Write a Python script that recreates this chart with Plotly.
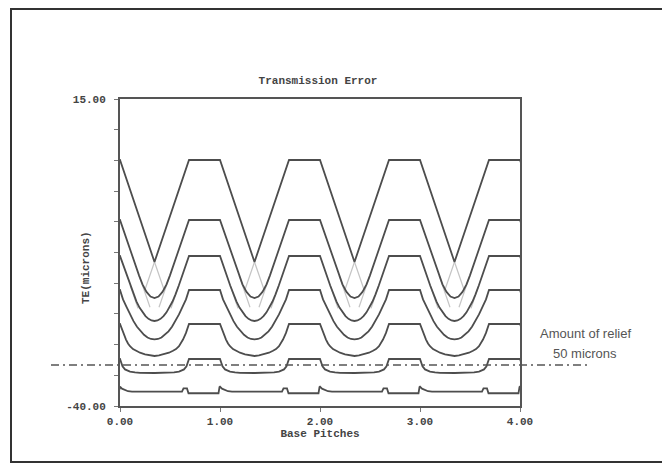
import plotly.graph_objects as go

# ---------------- data ----------------
periods = [-1, 0, 1, 2, 3, 4]          # base-pitch periods the profiles repeat over

# one-period profiles: phase within a base pitch and TE (microns)
c1_t = [0.0, 0.345, 0.69, 1.0]
c1_y = [4.07, -14.20, 4.07, 4.07]

c2_t = [0.0, 0.191, 0.225, 0.265, 0.305, 0.345, 0.385, 0.425, 0.465, 0.499, 0.69, 1.0]
c2_y = [-6.68, -16.64, -18.21, -19.57, -20.38, -20.65, -20.38, -19.57, -18.21, -16.64, -6.68, -6.68]

c3_t = [0.0, 0.102, 0.135, 0.165, 0.195, 0.225, 0.255, 0.285, 0.315, 0.345,
        0.375, 0.405, 0.435, 0.465, 0.495, 0.525, 0.555, 0.588, 0.69, 1.0]
c3_y = [-13.13, -18.42, -20.0, -21.29, -22.36, -23.22, -23.90, -24.38, -24.67, -24.77,
        -24.67, -24.38, -23.90, -23.22, -22.36, -21.29, -20.0, -18.42, -13.13, -13.13]

c4_t = [0.0, 0.03, 0.065, 0.10, 0.135, 0.17, 0.205, 0.24, 0.275, 0.31, 0.345,
        0.38, 0.415, 0.45, 0.485, 0.52, 0.555, 0.59, 0.625, 0.66, 0.69, 1.0]
c4_y = [-19.22, -20.9, -22.25, -23.6, -24.80, -25.8, -26.62, -27.25, -27.72, -27.99, -28.08,
        -27.99, -27.72, -27.25, -26.62, -25.8, -24.80, -23.6, -22.25, -20.9, -19.22, -19.22]

c5_t = [0.0, 0.03, 0.06, 0.08, 0.10, 0.13, 0.16, 0.20, 0.25, 0.30, 0.345,
        0.39, 0.44, 0.49, 0.53, 0.56, 0.59, 0.61, 0.63, 0.66, 0.69, 1.0]
c5_y = [-25.31, -26.9, -28.1, -28.8, -29.3, -29.8, -30.1, -30.45, -30.75, -30.95, -31.04,
        -30.95, -30.75, -30.45, -30.1, -29.8, -29.3, -28.8, -28.1, -26.9, -25.31, -25.31]

c6_t = [0.0, 0.025, 0.05, 0.075, 0.10, 0.15, 0.20, 0.345, 0.49, 0.54, 0.59, 0.615, 0.64, 0.665, 0.69, 1.0]
c6_y = [-31.58, -32.9, -33.45, -33.7, -33.85, -33.98, -34.05, -34.09, -34.05, -33.98, -33.85, -33.7, -33.45, -32.9, -31.58, -31.58]

c7_t = [0.0, 0.02, 0.05, 0.08, 0.12, 0.62, 0.635, 0.67, 0.685, 0.985, 0.995, 1.0]
c7_y = [-36.54, -36.9, -37.2, -37.35, -37.44, -37.44, -36.85, -36.85, -37.72, -37.72, -36.6, -36.54]

curves_t = [c1_t, c2_t, c3_t, c4_t, c5_t, c6_t, c7_t]
curves_y = [c1_y, c2_y, c3_y, c4_y, c5_y, c6_y, c7_y]

# faint continuations of the straight flanks (segments within one period)
faint_seg_t = [[0.345, 0.445], [0.345, 0.245],
               [0.191, 0.30], [0.499, 0.39],
               [0.102, 0.18], [0.588, 0.51]]
faint_seg_y = [[-14.20, -19.40], [-14.20, -19.40],
               [-16.64, -22.31], [-16.64, -22.31],
               [-18.42, -22.51], [-18.42, -22.51]]

relief_level = -32.65          # amount of relief line (dash-dot)

x_tickvals = [0, 1, 2, 3, 4]
x_ticktext = ["0.00", "1.00", "2.00", "3.00", "4.00"]
y_tickvals = [-40, -34.5, -29, -23.5, -18, -12.5, -7, -1.5, 4, 9.5, 15]
y_ticktext = ["-40.00", "", "", "", "", "", "", "", "", "", "15.00"]

# ---------------- layout geometry (page has an 8px body margin) ----------------
OFF = 8
W, H = 670 - OFF, 465 - OFF
L, T = 120 - OFF, 99 - OFF
R = W - (520 - OFF)
B = H - (406 - OFF)
PW, PH = W - L - R, H - T - B


def px(xp):
    return (xp - OFF - L) / PW


def py(yp):
    return (H - B - (yp - OFF)) / PH


fig = go.Figure()

# faint flank continuations
fx, fy = [], []
for p in periods:
    for st, sy in zip(faint_seg_t, faint_seg_y):
        fx += [p + v for v in st] + [None]
        fy += list(sy) + [None]
fig.add_trace(go.Scatter(x=fx, y=fy, mode="lines",
                         line=dict(color="#c4c4c4", width=1.2),
                         hoverinfo="skip", showlegend=False))

for ts, ys in zip(curves_t, curves_y):
    xs, yv = [], []
    for p in periods:
        xs += [p + v for v in ts]
        yv += list(ys)
    fig.add_trace(go.Scatter(x=xs, y=yv, mode="lines",
                             line=dict(color="#4d4d4d", width=1.8),
                             showlegend=False))

mono = "Liberation Mono"
tf = dict(family=mono, size=11, color="#444")

fig.update_layout(
    width=W, height=H,
    margin=dict(l=L, r=R, t=T, b=B),
    paper_bgcolor="white", plot_bgcolor="white",
    showlegend=False,
    xaxis=dict(range=[0, 4], tickvals=x_tickvals, ticktext=["<b>%s</b>" % s for s in x_ticktext],
               showgrid=False, zeroline=False,
               showline=True, mirror=True, linecolor="#555", linewidth=2,
               ticks="outside", ticklen=4, tickcolor="#777", tickwidth=1,
               tickfont=tf,
               title=dict(text="<b>Base Pitches</b>", standoff=2, font=tf)),
    yaxis=dict(range=[-40, 15], tickvals=y_tickvals,
               ticktext=["<b>%s</b>" % s if s else "" for s in y_ticktext],
               showgrid=False, zeroline=False,
               showline=True, mirror=True, linecolor="#555", linewidth=2,
               ticks="outside", ticklen=4, tickcolor="#777", tickwidth=1,
               ticklabelstandoff=6,
               tickfont=tf),
    title=dict(text="<b>Transmission Error</b>", xref="paper", x=px(318), xanchor="center",
               yref="container", y=1 - (80 - OFF) / H, yanchor="middle",
               font=tf),
)

# y axis title (rotated)
fig.add_annotation(x=px(86), y=py(268), xref="paper", yref="paper",
                   xanchor="center", yanchor="middle",
                   text="<b>TE(microns)</b>", textangle=-90, showarrow=False,
                   font=tf)

# relief dash-dot line
fig.add_shape(type="line", xref="paper", yref="y",
              x0=px(51), x1=px(588), y0=relief_level, y1=relief_level,
              line=dict(color="#555", width=1.5, dash="8px,4px,2px,4px"))

fig.add_annotation(x=px(585), y=py(333), xref="paper", yref="paper",
                   xanchor="center", yanchor="middle",
                   text="Amount of relief", showarrow=False,
                   font=dict(family="Liberation Sans", size=13, color="#555"))
fig.add_annotation(x=px(585), y=py(353), xref="paper", yref="paper",
                   xanchor="center", yanchor="middle",
                   text="50 microns", showarrow=False,
                   font=dict(family="Liberation Sans", size=13, color="#555"))

# outer frame
fig.add_shape(type="rect", xref="paper", yref="paper",
              x0=px(11), x1=px(663), y0=py(462), y1=py(9),
              line=dict(color="#333", width=2), fillcolor="rgba(0,0,0,0)")

fig.write_html("out.html")
